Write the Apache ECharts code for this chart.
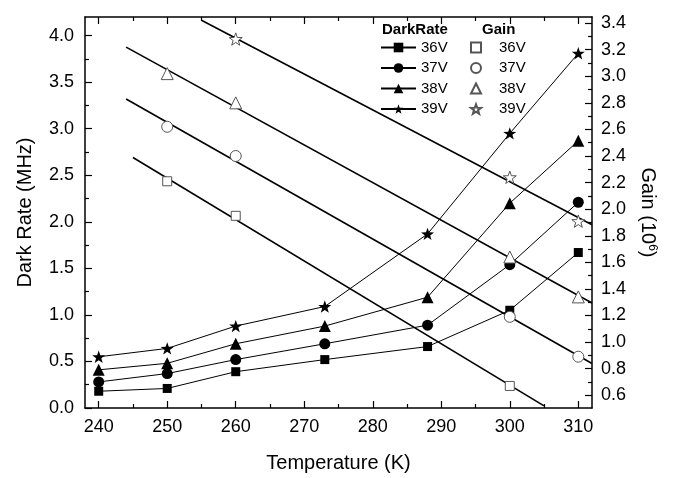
<!DOCTYPE html>
<html>
<head>
<meta charset="utf-8">
<script src="https://cdn.jsdelivr.net/npm/echarts@6/dist/echarts.min.js"></script>
<style>
  html, body { margin: 0; padding: 0; background: #fff; }
  #chart { width: 675px; height: 478px; }
</style>
</head>
<body>
<div id="chart"></div>
<script>
// Dark rate (MHz) measured at each temperature, one array per bias voltage
const temps  = [240, 250, 260, 273, 288, 300, 310];
const dark36 = [0.18, 0.21, 0.39, 0.52, 0.66, 1.05, 1.67];
const dark37 = [0.28, 0.37, 0.52, 0.69, 0.89, 1.54, 2.21];
const dark38 = [0.41, 0.48, 0.69, 0.88, 1.19, 2.20, 2.87];
const dark39 = [0.55, 0.64, 0.88, 1.09, 1.87, 2.95, 3.81];

// Gain (10^6) measurements
const gainT36 = [250, 260, 300];
const gain36  = [2.21, 1.95, 0.67];
const gainT37 = [250, 260, 300, 310];
const gain37  = [2.62, 2.40, 1.19, 0.89];
const gainT38 = [250, 260, 300, 310];
const gain38  = [3.02, 2.80, 1.64, 1.34];
const gainT39 = [260, 300, 310];
const gain39  = [3.28, 2.24, 1.91];

// Temperature span covered by each linear gain fit
const fitSpan36 = [245, 305];
const fitSpan37 = [244, 312];
const fitSpan38 = [244, 312];
const fitSpan39 = [255, 312];

// Tick values
const tempTicks  = [240, 250, 260, 270, 280, 290, 300, 310];
const tempMinor  = [245, 255, 265, 275, 285, 295, 305];
const darkTicks  = [0.0, 0.5, 1.0, 1.5, 2.0, 2.5, 3.0, 3.5, 4.0];
const darkMinor  = [0.25, 0.75, 1.25, 1.75, 2.25, 2.75, 3.25, 3.75];
const gainTicks  = [0.6, 0.8, 1.0, 1.2, 1.4, 1.6, 1.8, 2.0, 2.2, 2.4, 2.6, 2.8, 3.0, 3.2, 3.4];
const gainMinor  = [0.7, 0.9, 1.1, 1.3, 1.5, 1.7, 1.9, 2.1, 2.3, 2.5, 2.7, 2.9, 3.1, 3.3];

const FONT = '"Liberation Sans", Arial, sans-serif';
const STAR = 'path://M50,0L61.76,33.82L97.55,34.55L69.02,56.18L79.39,90.45L50,70L20.61,90.45L30.98,56.18L2.45,34.55L38.24,33.82Z';

const X_RANGE = [238, 312];
const DARK_RANGE = [0, 4.2];
const GAIN_RANGE = [0.504, 3.446];

// Least-squares straight line through the gain points
function linFit(xs, ys) {
  const n = xs.length;
  const mx = xs.reduce((a, b) => a + b, 0) / n;
  const my = ys.reduce((a, b) => a + b, 0) / n;
  let sxy = 0, sxx = 0;
  for (let i = 0; i < n; i++) {
    sxy += (xs[i] - mx) * (ys[i] - my);
    sxx += (xs[i] - mx) * (xs[i] - mx);
  }
  const k = sxy / sxx;
  return x => my + k * (x - mx);
}

const axisLineStyle = { color: '#000', width: 1.5 };
const labelStyle = { color: '#000', fontSize: 18, fontFamily: FONT };

function tickAxis(position, range, ticks, len, opts) {
  return Object.assign({
    type: 'value',
    position: position,
    min: range[0],
    max: range[1],
    axisLine: { show: false, onZero: false, lineStyle: axisLineStyle },
    axisTick: { show: true, inside: true, length: len, customValues: ticks, lineStyle: { color: '#000', width: 1.2 } },
    axisLabel: { show: false },
    splitLine: { show: false },
    minorTick: { show: false }
  }, opts || {});
}

const xAxes = [
  tickAxis('bottom', X_RANGE, tempTicks, 7, {
    axisLine: { show: true, onZero: false, lineStyle: axisLineStyle },
    axisLabel: Object.assign({ show: true, customValues: tempTicks, margin: 10 }, labelStyle),
    name: 'Temperature (K)',
    nameLocation: 'middle',
    nameGap: 45,
    nameTextStyle: { color: '#000', fontSize: 20, fontFamily: FONT }
  }),
  tickAxis('bottom', X_RANGE, tempMinor, 4),
  tickAxis('top', X_RANGE, tempTicks, 7, {
    axisLine: { show: true, onZero: false, lineStyle: axisLineStyle }
  }),
  tickAxis('top', X_RANGE, tempMinor, 4)
];

const yAxes = [
  tickAxis('left', DARK_RANGE, darkTicks, 7, {
    axisLine: { show: true, onZero: false, lineStyle: axisLineStyle },
    axisLabel: Object.assign({ show: true, customValues: darkTicks, margin: 11, formatter: v => v.toFixed(1) }, labelStyle),
    name: 'Dark Rate (MHz)',
    nameLocation: 'middle',
    nameGap: 50,
    nameTextStyle: { color: '#000', fontSize: 20, fontFamily: FONT }
  }),
  tickAxis('left', DARK_RANGE, darkMinor, 4),
  tickAxis('right', GAIN_RANGE, gainTicks, 7, {
    axisLine: { show: true, onZero: false, lineStyle: axisLineStyle },
    axisLabel: Object.assign({ show: true, customValues: gainTicks, margin: 9, formatter: v => v.toFixed(1) }, labelStyle),
    name: 'Gain (10{sup|6})',
    nameLocation: 'middle',
    nameRotate: -90,
    nameGap: 46,
    nameTextStyle: {
      color: '#000', fontSize: 20, fontFamily: FONT,
      rich: { sup: { fontSize: 12, fontFamily: FONT, color: '#000', verticalAlign: 'top', padding: [0, 0, 8, 0] } }
    }
  }),
  tickAxis('right', GAIN_RANGE, gainMinor, 4)
];

const darkSets = [
  { name: '36V', values: dark36, symbol: 'rect', size: 9 },
  { name: '37V', values: dark37, symbol: 'circle', size: 11 },
  { name: '38V', values: dark38, symbol: 'triangle', size: 12 },
  { name: '39V', values: dark39, symbol: STAR, size: 13 }
];
const gainSets = [
  { name: '36V ', t: gainT36, values: gain36, span: fitSpan36, symbol: 'rect', size: 9 },
  { name: '37V ', t: gainT37, values: gain37, span: fitSpan37, symbol: 'circle', size: 11 },
  { name: '38V ', t: gainT38, values: gain38, span: fitSpan38, symbol: 'triangle', size: 12 },
  { name: '39V ', t: gainT39, values: gain39, span: fitSpan39, symbol: STAR, size: 13 }
];

const series = [];
darkSets.forEach(d => {
  series.push({
    name: d.name,
    type: 'line',
    xAxisIndex: 0, yAxisIndex: 0,
    data: temps.map((t, i) => [t, d.values[i]]),
    symbol: d.symbol,
    symbolSize: d.size,
    symbolKeepAspect: true,
    itemStyle: { color: '#000' },
    lineStyle: { color: '#000', width: 1 },
    z: 4,
    animation: false
  });
});
gainSets.forEach(g => {
  const f = linFit(g.t, g.values);
  series.push({
    name: 'fit' + g.name.trim(),
    type: 'line',
    xAxisIndex: 0, yAxisIndex: 2,
    data: [[g.span[0], f(g.span[0])], [g.span[1], f(g.span[1])]],
    showSymbol: false,
    lineStyle: { color: '#000', width: 1.6 },
    clip: true,
    z: 3,
    animation: false
  });
  series.push({
    name: g.name,
    type: 'scatter',
    xAxisIndex: 0, yAxisIndex: 2,
    data: g.t.map((t, i) => [t, g.values[i]]),
    symbol: g.symbol,
    symbolSize: g.size,
    symbolKeepAspect: true,
    itemStyle: { color: '#fff', borderColor: '#555', borderWidth: 1, opacity: 1 },
    z: 5,
    animation: false
  });
});

const chart = echarts.init(document.getElementById('chart'), null, { renderer: 'canvas' });
chart.setOption({
  backgroundColor: '#fff',
  animation: false,
  grid: { left: 85, right: 83, top: 17, bottom: 61, containLabel: false },
  xAxis: xAxes,
  yAxis: yAxes,
  legend: [
    {
      data: darkSets.map(d => d.name),
      orient: 'vertical',
      left: 380, top: 40,
      padding: 0,
      itemWidth: 35, itemHeight: 12, itemGap: 5.5,
      selectedMode: false,
      textStyle: { color: '#000', fontSize: 15, fontFamily: FONT }
    },
    {
      data: gainSets.map(g => ({ name: g.name, icon: g.symbol })),
      orient: 'vertical',
      left: 470, top: 40,
      padding: 0,
      itemWidth: 10, itemHeight: 10, itemGap: 5.5,
      selectedMode: false,
      formatter: n => n.trim(),
      textStyle: { color: '#000', fontSize: 15, fontFamily: FONT, padding: [0, 0, 0, 13] }
    }
  ],
  graphic: [
    { type: 'text', left: 382, top: 22, style: { text: 'DarkRate', font: 'bold 15px ' + FONT, fill: '#000' } },
    { type: 'text', left: 482, top: 22, style: { text: 'Gain', font: 'bold 15px ' + FONT, fill: '#000' } }
  ],
  series: series
});
</script>
</body>
</html>
